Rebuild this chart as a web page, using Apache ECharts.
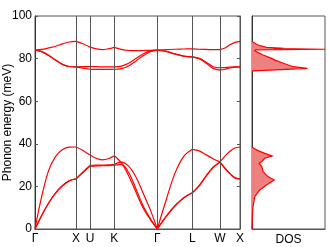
<!DOCTYPE html>
<html><head><meta charset="utf-8">
<script src="https://cdn.jsdelivr.net/npm/echarts@6/dist/echarts.min.js"></script>
<style>html,body{margin:0;padding:0;background:#fff}#c{width:329px;height:247px}</style>
</head><body><div id="c"></div><script>
// High-symmetry points along the path
const kLabels = ['Γ','X','U','K','Γ','L','W','X'];
const kPos = [0, 1.0, 1.341, 1.934, 2.983, 3.837, 4.512, 5.0];
const yTicks = [0, 20, 40, 60, 80, 100];

// Phonon branches per path segment (meV), sampled evenly along each segment
const bands_GX = [
  [84.0, 84.3, 85.0, 85.8, 86.9, 87.8, 88.1],
  [84.0, 83.3, 81.5, 79.3, 77.3, 76.3, 76.1],
  [84.0, 83.3, 81.5, 79.3, 77.3, 76.3, 76.1],
  [0, 15.5, 27.5, 34.0, 37.2, 38.4, 38.5],
  [0, 6.5, 12.2, 16.8, 20.3, 22.6, 23.5],
  [0, 6.5, 12.2, 16.8, 20.3, 22.6, 23.5]
];
const bands_XU = [
  [88.1, 87.0, 85.4],
  [76.1, 76.2, 76.2],
  [76.1, 75.5, 75.0],
  [38.5, 36.9, 34.7],
  [23.5, 26.8, 29.8],
  [23.5, 26.5, 29.4]
];
const bands_UK = [
  [85.4, 84.6, 84.2, 84.6, 85.3],
  [76.2, 76.2, 76.1, 76.1, 76.1],
  [75.0, 74.9, 74.9, 74.9, 75.0],
  [34.7, 33.2, 32.5, 33.0, 34.4],
  [29.8, 30.0, 30.0, 30.1, 30.4],
  [29.4, 29.6, 29.7, 29.8, 30.0]
];
const bands_KG = [
  [85.3, 84.3, 83.8, 83.7, 83.8, 83.9, 84.0],
  [76.1, 76.5, 77.8, 80.0, 82.2, 83.5, 84.0],
  [75.0, 75.3, 76.5, 78.8, 81.3, 83.2, 84.0],
  [34.4, 31.0, 25.0, 17.5, 10.0, 4.6, 0],
  [30.4, 31.4, 29.5, 24.5, 17.0, 9.2, 0],
  [30.0, 30.3, 26.5, 19.0, 11.0, 5.0, 0]
];
const bands_GL = [
  [84.0, 84.2, 84.4, 84.5, 84.6],
  [84.0, 83.4, 82.2, 81.2, 80.8],
  [84.0, 83.4, 82.2, 81.2, 80.8],
  [0, 13.5, 26.0, 34.0, 37.4],
  [0, 5.8, 10.8, 14.6, 17.0],
  [0, 5.8, 10.8, 14.6, 17.0]
];
const bands_LW = [
  [84.6, 84.4, 84.3, 84.2, 84.2],
  [80.8, 80.1, 78.3, 76.2, 75.6],
  [80.8, 79.9, 77.8, 75.4, 74.6],
  [37.4, 36.7, 34.8, 33.0, 31.5],
  [17.0, 20.5, 25.0, 29.0, 31.5],
  [17.0, 20.3, 24.8, 28.8, 31.3]
];
const bands_WX = [
  [84.2, 85.0, 86.5, 87.6, 88.1],
  [75.6, 75.8, 76.0, 76.1, 76.1],
  [74.6, 75.0, 75.6, 76.0, 76.1],
  [31.5, 34.2, 36.5, 38.0, 38.5],
  [31.5, 28.6, 26.0, 24.0, 23.5],
  [31.3, 28.4, 25.9, 24.0, 23.5]
];

// Density of states (energy meV, DOS arb. units) - acoustic and optical lobes
const dosE1 = [0, 5, 10.5, 15.2, 18.3, 20.7, 23.0, 24.6, 26.9, 29.3, 30.8, 31.6, 33.2, 34.3, 35.5, 36.8, 37.9, 38.5];
const dosV1 = [0, 0.005, 0.014, 0.037, 0.106, 0.199, 0.304, 0.217, 0.152, 0.134, 0.097, 0.131, 0.175, 0.276, 0.175, 0.083, 0.023, 0];
const dosE2 = [74.2, 74.8, 75.4, 76.2, 77.8, 79.3, 80.1, 81.7, 82.8, 83.7, 84.1, 84.4, 84.7, 84.9, 85.3, 86.4, 87.5, 88.2];
const dosV2 = [0, 0.40, 0.758, 0.564, 0.430, 0.315, 0.269, 0.152, 0.083, 0.037, 0.05, 1.0, 0.35, 0.38, 0.199, 0.083, 0.023, 0];

const FONT = 'Liberation Sans, Arial, sans-serif';
const segments = [bands_GX, bands_XU, bands_UK, bands_KG, bands_GL, bands_LW, bands_WX];
const series = [];
series.push({
  type: 'line', xAxisIndex: 0, yAxisIndex: 0, data: [], symbol: 'none', silent: true, z: 1,
  markLine: {
    silent: true, symbol: 'none', label: {show: false},
    lineStyle: {color: '#555', width: 1, type: 'solid'},
    data: kPos.slice(1, -1).map(v => ({xAxis: v}))
  }
});
segments.forEach((seg, s) => {
  const x0 = kPos[s], x1 = kPos[s + 1];
  seg.forEach(branch => {
    const n = branch.length;
    series.push({
      type: 'line', xAxisIndex: 0, yAxisIndex: 0, smooth: 0.35, symbol: 'none', silent: true, z: 3,
      lineStyle: {color: '#ff0000', width: 1.2},
      data: branch.map((e, i) => [x0 + (x1 - x0) * i / (n - 1), e])
    });
  });
});
function lobe(E, V, api) { return E.map((e, i) => api.coord([V[i], e])); }
series.push({
  type: 'custom', xAxisIndex: 1, yAxisIndex: 2, data: [[0, 0]], silent: true, z: 3,
  renderItem: function (params, api) {
    const p1 = lobe(dosE1, dosV1, api), p2 = lobe(dosE2, dosV2, api);
    const fill = '#ef8080', st = {stroke: '#ff0000', lineWidth: 1.2, fill: null};
    return {type: 'group', children: [
      {type: 'polygon', shape: {points: p1}, style: {fill: fill}},
      {type: 'polygon', shape: {points: p2}, style: {fill: fill}},
      {type: 'polyline', shape: {points: p1}, style: st},
      {type: 'polyline', shape: {points: p2}, style: st}
    ]};
  }
});

const chart = echarts.init(document.getElementById('c'), null, {renderer: 'canvas'});
chart.setOption({
  animation: false,
  backgroundColor: '#fff',
  grid: [
    {left: 35, right: 89, top: 16, bottom: 18, show: true, borderColor: '#555', borderWidth: 1, backgroundColor: 'transparent', containLabel: false, outerBoundsMode: 'none'},
    {left: 252, right: 4, top: 16, bottom: 18, show: true, borderColor: '#555', borderWidth: 1, backgroundColor: 'transparent', containLabel: false, outerBoundsMode: 'none'}
  ],
  xAxis: [
    {type: 'value', gridIndex: 0, min: kPos[0], max: kPos[kPos.length - 1],
      axisLine: {show: true, lineStyle: {color: '#555'}}, axisTick: {show: false}, splitLine: {show: false},
      axisLabel: {customValues: kPos, margin: 4, color: '#000', fontSize: 12, fontFamily: FONT,
        formatter: v => { const i = kPos.findIndex(p => Math.abs(p - v) < 1e-6); return i >= 0 ? kLabels[i] : ''; }}},
    {type: 'value', gridIndex: 1, min: 0, max: 1,
      axisLine: {show: true, lineStyle: {color: '#555'}}, axisTick: {show: false}, splitLine: {show: false},
      axisLabel: {show: false}, nameMoveOverlap: false,
      name: 'DOS', nameLocation: 'middle', nameGap: 5,
      nameTextStyle: {color: '#000', fontSize: 12, fontFamily: FONT, verticalAlign: 'top'}}
  ],
  yAxis: [
    {type: 'value', gridIndex: 0, min: 0, max: 100, interval: 20, position: 'left',
      axisLine: {show: true, lineStyle: {color: '#333'}},
      axisTick: {show: true, inside: true, length: 3, lineStyle: {color: '#555'}},
      splitLine: {show: false},
      axisLabel: {customValues: yTicks, margin: 3, color: '#000', fontSize: 12, fontFamily: FONT},
      name: 'Phonon energy (meV)', nameLocation: 'middle', nameGap: 21, nameMoveOverlap: false,
      nameTextStyle: {color: '#000', fontSize: 12, fontFamily: FONT}},
    {type: 'value', gridIndex: 0, min: 0, max: 100, interval: 20, position: 'right',
      axisLine: {show: true, lineStyle: {color: '#555'}},
      axisTick: {show: true, inside: true, length: 3, lineStyle: {color: '#555'}},
      splitLine: {show: false}, axisLabel: {show: false}},
    {type: 'value', gridIndex: 1, min: 0, max: 100,
      axisLine: {show: true, lineStyle: {color: '#333'}}, axisTick: {show: false},
      splitLine: {show: false}, axisLabel: {show: false}}
  ],
  series: series
});
</script></body></html>
